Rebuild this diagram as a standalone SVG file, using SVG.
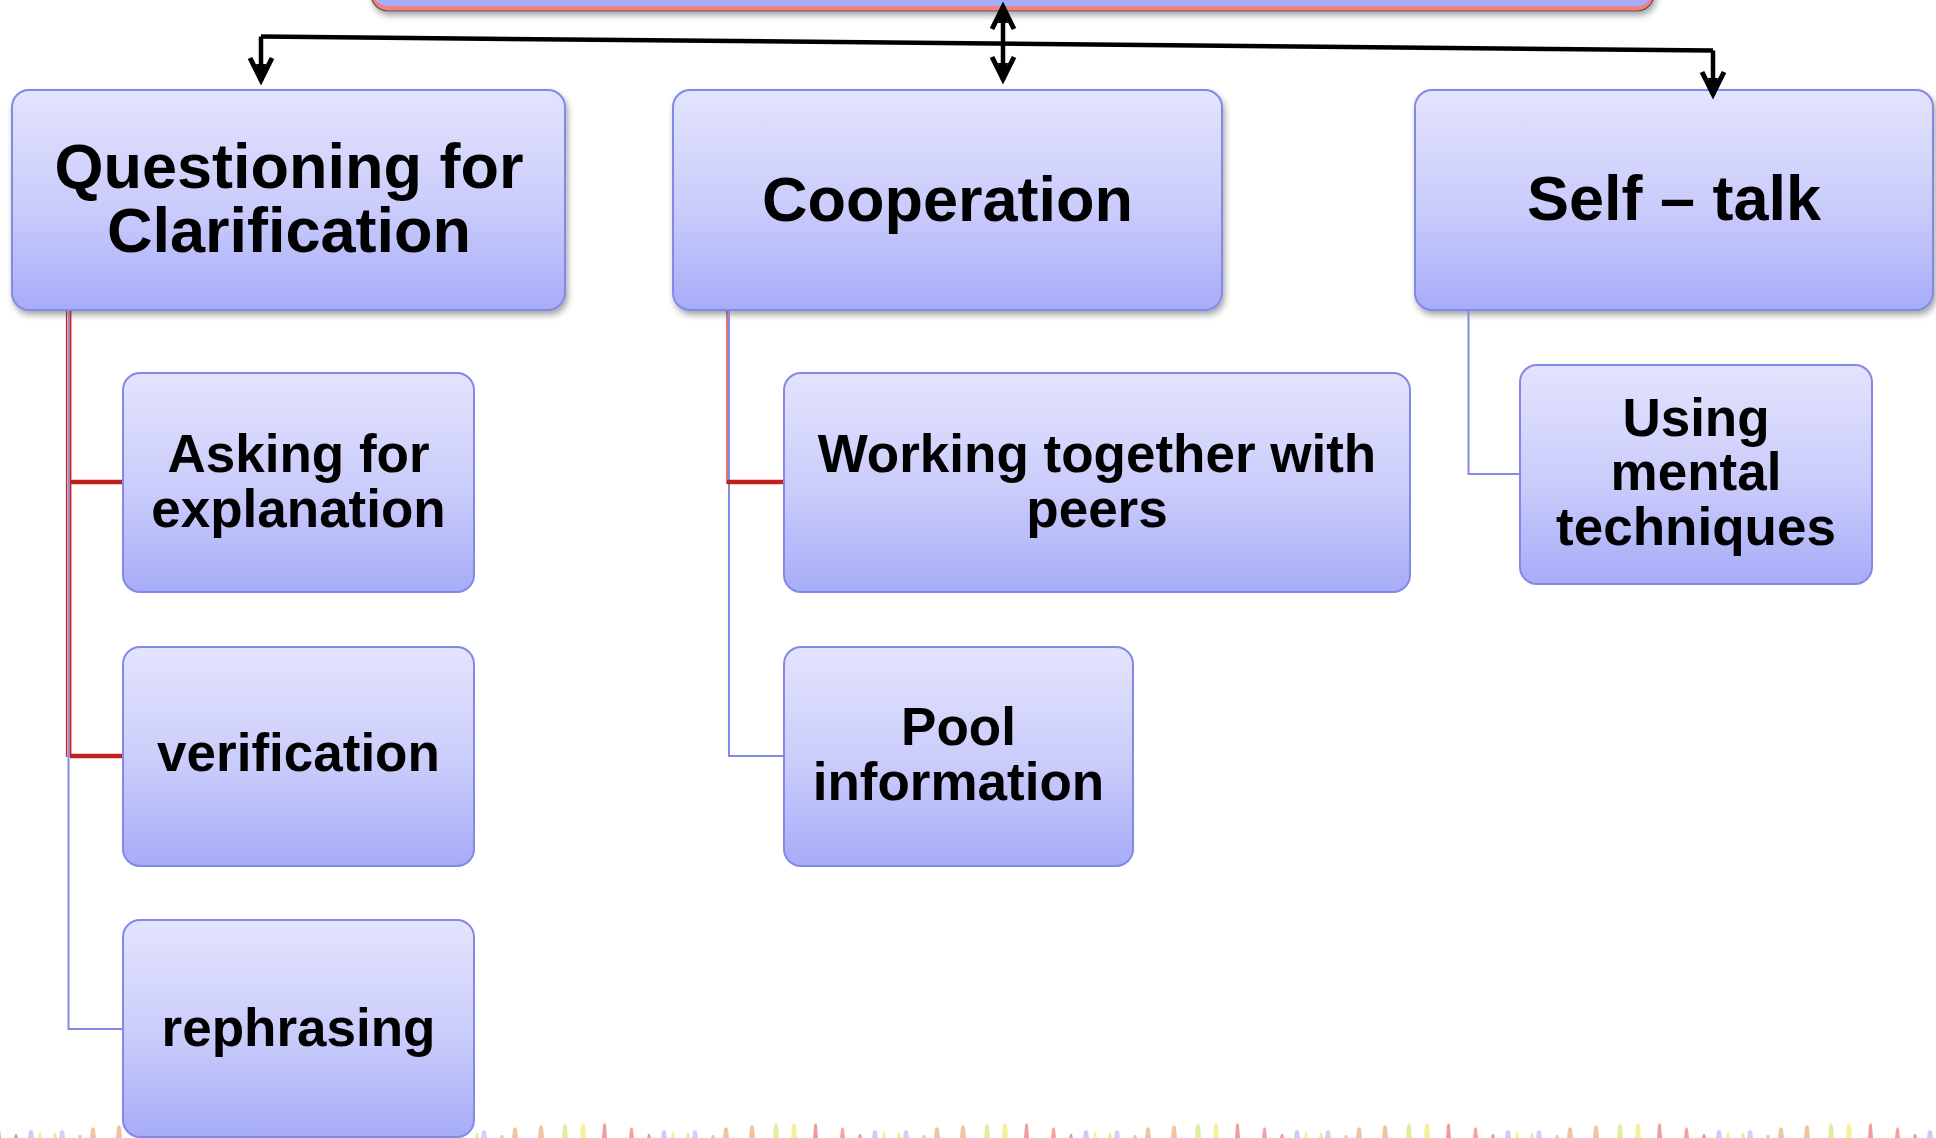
<svg xmlns="http://www.w3.org/2000/svg" width="1936" height="1138" viewBox="0 0 1936 1138">
<defs>
<linearGradient id="g" x1="0" y1="0" x2="0" y2="1">
<stop offset="0" stop-color="#E3E4FD"/>
<stop offset="0.55" stop-color="#C9CBFB"/>
<stop offset="1" stop-color="#A6ACF8"/>
</linearGradient>
<filter id="sh" x="-5%" y="-10%" width="110%" height="130%">
<feDropShadow dx="2" dy="4" stdDeviation="3" flood-color="#000" flood-opacity="0.35"/>
</filter>
<marker id="ah" markerUnits="userSpaceOnUse" markerWidth="32" markerHeight="32" viewBox="-27 -15 32 30" refX="0" refY="0" orient="auto">
<path d="M-23,-11 L-1,0 L-23,11" fill="none" stroke="#000" stroke-width="5" stroke-linejoin="miter" stroke-miterlimit="10"/>
<path d="M3,0 L-17,-5 L-17,5 Z" fill="#000"/>
</marker>
<pattern id="spk" patternUnits="userSpaceOnUse" x="182" y="0" width="211" height="1138">
<g opacity="0.5">
<path d="M-2,1138 L-1,1125 L1,1123 L2,1125 L3,1138 Z" fill="#E03A3A"/>
<path d="M25,1138 L26,1129 L28,1127 L29,1129 L30,1138 Z" fill="#E04A4A"/>
<path d="M43,1138 L44,1134 L46,1134 L47,1138 Z" fill="#E03A3A"/>
<path d="M57,1138 L58,1131 L60,1130 L62,1131 L63,1138 Z" fill="#9A9AF0"/>
<path d="M67,1138 L68,1132 L70,1132 L71,1138 Z" fill="#EEE040"/>
<path d="M82,1138 L83,1133 L85,1133 L86,1138 Z" fill="#BFE040"/>
<path d="M88,1138 L89,1131 L91,1130 L93,1131 L94,1138 Z" fill="#B49AF0"/>
<path d="M107,1138 L108,1135 L110,1135 L111,1138 Z" fill="#E08A40"/>
<path d="M119,1138 L120,1129 L122,1127 L124,1129 L125,1138 Z" fill="#E08A40"/>
<path d="M145,1138 L146,1127 L148,1125 L150,1127 L151,1138 Z" fill="#E08A40"/>
<path d="M169,1138 L170,1126 L172,1123 L174,1126 L175,1138 Z" fill="#BFE040"/>
<path d="M187,1138 L188,1125 L190,1123 L192,1125 L193,1138 Z" fill="#EEE040"/>
<path d="M209,1138 L210,1125 L212,1123 L213,1125 L214,1138 Z" fill="#E03A3A"/>
</g>
</pattern>
<style>
.box{fill:url(#g);stroke:#8389E6;stroke-width:2}
.t1{font-family:"Liberation Sans",Arial,sans-serif;font-weight:bold;font-size:63px;fill:#000;text-anchor:middle}
.t2{font-family:"Liberation Sans",Arial,sans-serif;font-weight:bold;font-size:53px;fill:#000;text-anchor:middle}
.blue{fill:none;stroke:#8389E6;stroke-width:2}
.red{fill:none;stroke:#C0201E}
.blk{fill:none;stroke:#000;stroke-width:4.5}
</style>
</defs>
<rect x="0" y="0" width="1936" height="1138" fill="#fff"/>
<rect x="0" y="1116" width="1936" height="22" fill="url(#spk)"/>

<g id="top">
<g filter="url(#sh)">
<rect x="371" y="-40" width="1283" height="51" rx="17" fill="#EE8282" stroke="#6B5050" stroke-width="1.2"/>
<rect x="371.5" y="-40" width="1282" height="46" rx="17" fill="#A7ADF8"/>
</g>
</g>

<g id="n-questioning" filter="url(#sh)">
<rect class="box" x="12" y="90" width="553" height="220" rx="17"/>
<text class="t1" x="289" y="188">Questioning for</text>
<text class="t1" x="289" y="252">Clarification</text>
</g>
<g id="n-cooperation" filter="url(#sh)">
<rect class="box" x="673" y="90" width="549" height="220" rx="17"/>
<text class="t1" x="947.5" y="221">Cooperation</text>
</g>
<g id="n-selftalk" filter="url(#sh)">
<rect class="box" x="1415" y="90" width="518" height="220" rx="17"/>
<text class="t1" x="1674" y="220">Self – talk</text>
</g>

<g id="n-asking">
<rect class="box" x="123" y="373" width="351" height="219" rx="17"/>
<text class="t2" x="298.5" y="472">Asking for</text>
<text class="t2" x="298.5" y="527">explanation</text>
</g>
<g id="n-verification">
<rect class="box" x="123" y="647" width="351" height="219" rx="17"/>
<text class="t2" x="298.5" y="771">verification</text>
</g>
<g id="n-rephrasing">
<rect class="box" x="123" y="920" width="351" height="217" rx="17"/>
<text class="t2" x="298.5" y="1046">rephrasing</text>
</g>
<g id="n-working">
<rect class="box" x="784" y="373" width="626" height="219" rx="17"/>
<text class="t2" x="1097" y="472">Working together with</text>
<text class="t2" x="1097" y="527">peers</text>
</g>
<g id="n-pool">
<rect class="box" x="784" y="647" width="349" height="219" rx="17"/>
<text class="t2" x="958.5" y="745">Pool</text>
<text class="t2" x="958.5" y="800">information</text>
</g>
<g id="n-using">
<rect class="box" x="1520" y="365" width="352" height="219" rx="17"/>
<text class="t2" x="1696" y="436">Using</text>
<text class="t2" x="1696" y="490">mental</text>
<text class="t2" x="1696" y="545">techniques</text>
</g>

<g id="connectors">
<path class="blk" d="M261,36.5 L1713,50.5"/>
<path class="blk" d="M261,36.5 L261,81" marker-end="url(#ah)"/>
<path class="blk" d="M1713,50.5 L1713,95" marker-end="url(#ah)"/>
<path class="blk" d="M1003,43 L1003,6" marker-end="url(#ah)"/>
<path class="blk" d="M1003,43 L1003,80" marker-end="url(#ah)"/>
<path class="blue" d="M68.5,311 L68.5,1029 L123,1029"/>
<path class="red" stroke-width="1.2" d="M66.5,311 L66.5,757"/>
<path class="red" stroke-width="1.8" d="M70.5,311 L70.5,757"/>
<path class="red" stroke-width="4.5" d="M70,482 L122,482 M70,756 L122,756"/>
<path class="blue" d="M729,311 L729,756 L783,756"/>
<path class="red" stroke-width="1.2" d="M727,311 L727,484"/>
<path class="red" stroke-width="4.5" d="M727,482 L783,482"/>
<path class="blue" d="M1468.5,311 L1468.5,474 L1519,474"/>
</g>
</svg>
